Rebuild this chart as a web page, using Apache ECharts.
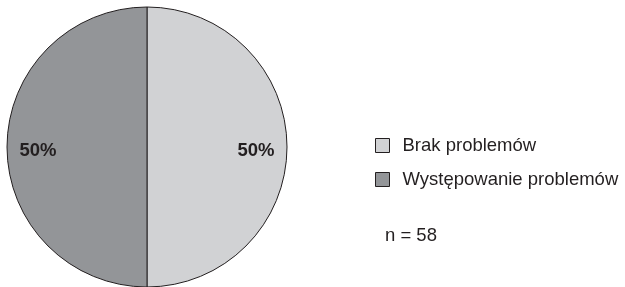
<!DOCTYPE html>
<html>
<head>
<meta charset="utf-8">
<style>
  html, body { margin: 0; padding: 0; background: #ffffff; }
  #chart { width: 625px; height: 287px; }
</style>
<script src="https://cdn.jsdelivr.net/npm/echarts@6/dist/echarts.min.js"></script>
</head>
<body>
<div id="chart"></div>
<script>
var categories = ['Brak problemów', 'Występowanie problemów'];
var values = [29, 29];
var sliceColors = ['#d1d2d4', '#939598'];
var sampleNote = 'n = 58';

var chart = echarts.init(document.getElementById('chart'), null, { renderer: 'canvas' });

var pieData = categories.map(function (c, i) {
  return { name: c, value: values[i], itemStyle: { color: sliceColors[i] } };
});
var labelData = categories.map(function (c, i) {
  return { name: c, value: values[i] };
});

var option = {
  animation: false,
  backgroundColor: '#ffffff',
  legend: {
    orient: 'vertical',
    left: 375,
    top: 136,
    padding: 0,
    itemWidth: 14,
    itemHeight: 14,
    itemGap: 15,
    icon: 'rect',
    data: categories,
    textStyle: {
      fontFamily: 'Liberation Sans, Arial, sans-serif',
      fontSize: 18.5,
      color: '#231f20',
      padding: [0, 0, 0, 8]
    },
    itemStyle: { borderColor: '#231f20', borderWidth: 1 }
  },
  series: [
    {
      type: 'pie',
      center: [147, 147],
      radius: [0, 140],
      startAngle: 90,
      clockwise: true,
      silent: true,
      label: { show: false },
      labelLine: { show: false },
      itemStyle: { borderColor: '#231f20', borderWidth: 1 },
      emphasis: { disabled: true },
      data: pieData
    },
    {
      type: 'pie',
      center: [147, 151],
      radius: [76, 136],
      startAngle: 90,
      clockwise: true,
      silent: true,
      percentPrecision: 0,
      legendHoverLink: false,
      itemStyle: { color: 'rgba(0,0,0,0)', borderWidth: 0 },
      label: {
        show: true,
        position: 'inside',
        formatter: '{d}%',
        fontFamily: 'Liberation Sans, Arial, sans-serif',
        fontWeight: 'bold',
        fontSize: 18.5,
        color: '#231f20'
      },
      labelLine: { show: false },
      emphasis: { disabled: true },
      data: labelData
    }
  ],
  graphic: [
    {
      type: 'text',
      left: 385,
      top: 226,
      style: {
        text: sampleNote,
        fontFamily: 'Liberation Sans, Arial, sans-serif',
        fontSize: 18.5,
        fill: '#231f20'
      }
    }
  ]
};
chart.setOption(option);
</script>
</body>
</html>
